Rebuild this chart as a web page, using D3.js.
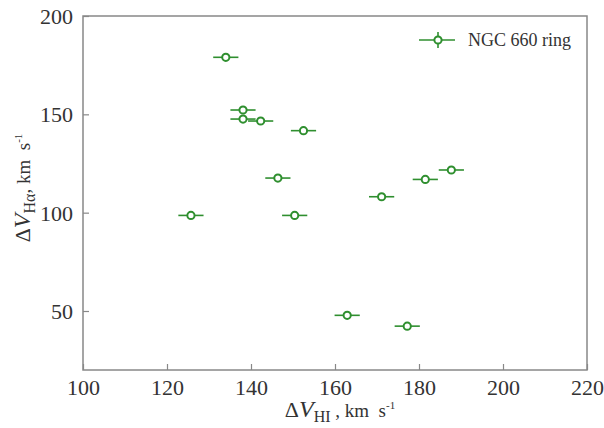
<!DOCTYPE html>
<html>
<head>
  <script src="https://d3js.org/d3.v7.min.js"></script>
  <style>
    body { margin: 0; background: #fff; }
    svg text { font-family: "Liberation Serif", "Times New Roman", "DejaVu Serif", serif; fill: #333; }
  </style>
</head>
<body>
  <svg width="604" height="428"></svg>
  <script>
    // NGC 660 ring: HI vs H-alpha velocity amplitudes
    const dVHI    = [134.0, 138.1, 138.1, 142.3, 152.5, 146.4, 125.7, 150.4, 171.1, 181.5, 187.7, 162.9, 177.2];
    const dVHa    = [179.0, 152.2, 147.6, 146.6, 141.7, 117.6,  98.6,  98.6, 108.1, 116.9, 121.7,  47.8,  42.3];
    const errHI   = [3, 3, 3, 3, 3, 3, 3, 3, 3, 3, 3, 3, 3];
    const errHa   = [1, 1, 1, 1, 1, 1, 1, 1, 1, 1, 1, 1, 1];
    const xTicks  = [100, 120, 140, 160, 180, 200, 220];
    const yTicks  = [50, 100, 150, 200];
    const seriesName = "NGC 660 ring";

    const green = "#2f8f2f";
    const serif = '"Liberation Serif", "Times New Roman", "DejaVu Serif", serif';
    const svg = d3.select("svg");
    const pL = 83, pR = 587, pT = 16, pB = 370;

    const x = d3.scaleLinear().domain([100, 220]).range([pL, pR]);
    const y = d3.scaleLinear().domain([20, 200]).range([pB, pT]);

    // frame
    svg.append("rect")
      .attr("x", pL).attr("y", pT)
      .attr("width", pR - pL).attr("height", pB - pT)
      .attr("fill", "none").attr("stroke", "#888").attr("stroke-width", 1.5);

    const xAxis = svg.append("g")
      .attr("transform", `translate(0,${pB})`)
      .call(d3.axisBottom(x).tickValues(xTicks).tickSizeInner(-6).tickSizeOuter(0).tickPadding(8));
    const yAxis = svg.append("g")
      .attr("transform", `translate(${pL},0)`)
      .call(d3.axisLeft(y).tickValues(yTicks).tickSizeInner(-6).tickSizeOuter(0).tickPadding(10));

    [xAxis, yAxis].forEach(a => {
      a.attr("font-family", serif).attr("font-size", 22);
      a.select(".domain").remove();
      a.selectAll(".tick line").attr("stroke", "#888").attr("stroke-width", 1.2);
      a.selectAll(".tick text").attr("fill", "#333");
    });
    xAxis.selectAll(".tick text").attr("dy", "0.75em");
    yAxis.selectAll(".tick text").attr("dy", "0.34em");

    const pts = dVHI.map((v, i) => ({ x: v, y: dVHa[i], ex: errHI[i], ey: errHa[i] }));

    const g = svg.append("g");
    g.selectAll("line.ex").data(pts).enter().append("line")
      .attr("class", "ex")
      .attr("x1", d => x(d.x - d.ex)).attr("x2", d => x(d.x + d.ex))
      .attr("y1", d => y(d.y)).attr("y2", d => y(d.y))
      .attr("stroke", green).attr("stroke-width", 1.6);
    g.selectAll("line.ey").data(pts).enter().append("line")
      .attr("class", "ey")
      .attr("x1", d => x(d.x)).attr("x2", d => x(d.x))
      .attr("y1", d => y(d.y - d.ey)).attr("y2", d => y(d.y + d.ey))
      .attr("stroke", green).attr("stroke-width", 1.6);
    g.selectAll("circle").data(pts).enter().append("circle")
      .attr("cx", d => x(d.x)).attr("cy", d => y(d.y)).attr("r", 3.6)
      .attr("fill", "#fff").attr("stroke", green).attr("stroke-width", 2);

    // legend
    const lg = svg.append("g").attr("transform", "translate(438,40)");
    lg.append("line").attr("x1", -19).attr("x2", 17).attr("y1", 0).attr("y2", 0)
      .attr("stroke", green).attr("stroke-width", 1.6);
    lg.append("line").attr("x1", 0).attr("x2", 0).attr("y1", -8).attr("y2", 8)
      .attr("stroke", green).attr("stroke-width", 1.6);
    lg.append("circle").attr("r", 3.6).attr("fill", "#fff")
      .attr("stroke", green).attr("stroke-width", 2);
    lg.append("text").attr("x", 30).attr("y", 6)
      .attr("font-family", serif).attr("font-size", 18).text(seriesName);

    // axis titles
    function title(sel, sub, sep) {
      sel.attr("font-family", serif).attr("text-anchor", "middle").attr("fill", "#444");
      sel.append("tspan").attr("font-size", 22).text("Δ");
      sel.append("tspan").attr("font-size", 24).attr("font-style", "italic").text("V");
      sel.append("tspan").attr("font-size", 16).attr("dy", 5).text(sub);
      sel.append("tspan").attr("font-size", 19).attr("dy", -5).text(sep);
      sel.append("tspan").attr("font-size", 11).attr("dy", -8).text("-1");
    }
    title(svg.append("text").attr("x", 340).attr("y", 417), "HI", " , km\u00a0\u00a0s");
    title(svg.append("text").attr("transform", "translate(30,188) rotate(-90)"), "Hα", ", km\u00a0\u00a0s");
  </script>
</body>
</html>
